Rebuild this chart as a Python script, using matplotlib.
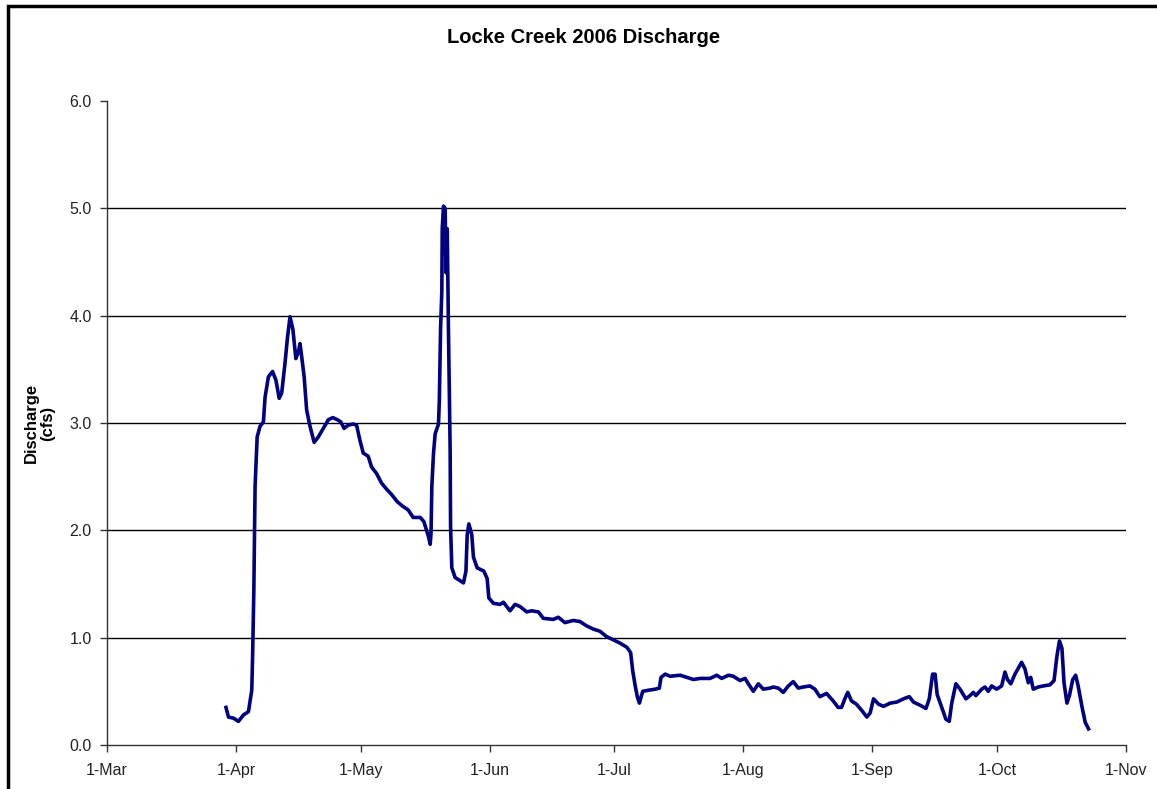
import matplotlib
matplotlib.use("Agg")
import matplotlib.pyplot as plt
import matplotlib.patches as patches
import pandas as pd

plt.rcParams['font.family'] = ['Liberation Sans', 'DejaVu Sans']

# days after 1-Mar-2006
days = [28.6, 29.2, 30.4, 31.6, 32.8, 34.0, 34.8, 35.0, 35.3, 35.6,
        36.1, 36.8, 37.6, 38.0, 38.8, 39.8, 40.6, 41.4, 42.0, 42.8,
        43.4, 44.0, 44.7, 45.4, 46.0, 46.4, 46.8, 47.4, 48.0, 48.8,
        49.8, 50.8, 52.0, 53.2, 54.3, 55.4, 56.2, 57.0, 58.0, 59.2,
        60.0, 60.8, 61.6, 62.8, 63.6, 64.8, 66.0, 67.3, 68.5, 69.7,
        70.9, 72.4, 73.6, 75.3, 76.2, 77.3, 77.7, 77.9, 78.1, 78.5,
        78.9, 79.7, 79.9, 80.2, 80.5, 80.6, 80.9, 81.3, 81.5, 81.8,
        82.1, 82.5, 82.6, 82.9, 83.7, 84.9, 85.7, 86.3, 86.6, 87.0,
        87.7, 88.1, 89.0, 90.6, 91.4, 91.8, 92.9, 94.5, 95.3, 96.9,
        98.1, 99.3, 100.9, 102.1, 103.7, 104.9, 107.3, 108.5, 110.1, 112.1,
        113.7, 115.3, 116.9, 118.5, 120.1, 121.7, 123.3, 125.0, 125.9, 126.4,
        127.0, 127.5, 128.0, 128.8, 130.2, 131.8, 132.8, 133.2, 134.2, 135.4,
        137.8, 139.4, 141.0, 142.6, 145.0, 146.6, 147.8, 149.4, 150.6, 152.2,
        153.4, 154.2, 155.4, 156.6, 157.8, 159.4, 160.2, 161.4, 162.6, 163.8,
        165.0, 166.2, 167.4, 169.0, 170.2, 171.4, 173.0, 174.6, 175.8, 176.6,
        177.4, 178.1, 179.0, 180.2, 181.5, 182.7, 183.5, 184.3, 185.5, 186.7,
        188.3, 189.9, 191.5, 192.9, 193.9, 195.5, 196.9, 197.7, 198.5, 199.1,
        199.6, 200.7, 201.7, 202.5, 203.1, 204.1, 205.1, 206.5, 207.5, 208.3,
        208.9, 210.3, 211.1, 211.9, 212.7, 213.9, 215.1, 215.9, 216.5, 217.3,
        218.3, 219.9, 220.7, 221.5, 222.1, 222.7, 223.9, 225.1, 226.7, 227.7,
        228.4, 229.0, 229.6, 230.1, 230.8, 231.4, 232.2, 232.9, 233.5, 234.4,
        235.2, 236.0]

# discharge (cfs)
discharge = [0.35, 0.26, 0.25, 0.22, 0.28, 0.31, 0.51, 0.82, 1.44, 2.41,
             2.87, 2.97, 3.01, 3.24, 3.43, 3.48, 3.40, 3.23, 3.28, 3.56,
             3.80, 3.99, 3.87, 3.60, 3.66, 3.74, 3.62, 3.43, 3.12, 2.97,
             2.82, 2.87, 2.95, 3.03, 3.05, 3.03, 3.01, 2.95, 2.98, 2.99,
             2.98, 2.84, 2.72, 2.69, 2.59, 2.53, 2.44, 2.38, 2.33, 2.27,
             2.23, 2.19, 2.12, 2.12, 2.08, 1.94, 1.87, 1.97, 2.41, 2.72,
             2.90, 2.99, 3.21, 3.88, 4.23, 4.81, 5.02, 5.00, 4.40, 4.81,
             3.85, 2.75, 2.04, 1.65, 1.56, 1.53, 1.51, 1.62, 1.96, 2.06,
             1.96, 1.75, 1.65, 1.62, 1.55, 1.37, 1.32, 1.31, 1.33, 1.25,
             1.31, 1.29, 1.24, 1.25, 1.24, 1.18, 1.17, 1.19, 1.14, 1.16,
             1.15, 1.11, 1.08, 1.06, 1.01, 0.98, 0.95, 0.91, 0.86, 0.69,
             0.55, 0.45, 0.39, 0.50, 0.51, 0.52, 0.53, 0.63, 0.66, 0.64,
             0.65, 0.63, 0.61, 0.62, 0.62, 0.65, 0.62, 0.65, 0.64, 0.60,
             0.62, 0.57, 0.50, 0.57, 0.52, 0.53, 0.54, 0.53, 0.49, 0.55,
             0.59, 0.53, 0.54, 0.55, 0.52, 0.45, 0.48, 0.41, 0.35, 0.35,
             0.43, 0.49, 0.41, 0.38, 0.32, 0.26, 0.30, 0.43, 0.38, 0.36,
             0.39, 0.40, 0.43, 0.45, 0.40, 0.37, 0.34, 0.43, 0.66, 0.66,
             0.47, 0.35, 0.24, 0.22, 0.39, 0.57, 0.52, 0.43, 0.46, 0.49,
             0.46, 0.52, 0.54, 0.50, 0.55, 0.52, 0.55, 0.68, 0.61, 0.57,
             0.66, 0.77, 0.71, 0.58, 0.63, 0.52, 0.54, 0.55, 0.56, 0.60,
             0.83, 0.97, 0.90, 0.58, 0.39, 0.46, 0.61, 0.65, 0.55, 0.36,
             0.21, 0.15]

month_starts = pd.date_range('2006-03-01', '2006-11-01', freq='MS')
month_labels = ['1-Mar', '1-Apr', '1-May', '1-Jun', '1-Jul', '1-Aug', '1-Sep', '1-Oct', '1-Nov']
y_ticks = [0.0, 1.0, 2.0, 3.0, 4.0, 5.0, 6.0]

dates = pd.Timestamp('2006-03-01') + pd.to_timedelta(days, unit='D')

fig = plt.figure(figsize=(11.57, 7.89), dpi=100)
ax = fig.add_axes([0.0925, 0.0558, 0.8807, 0.8162])

for v in y_ticks[1:-1]:
    ax.axhline(v, color='black', lw=1.0, zorder=1)

ax.plot(dates, discharge, color='#000080', lw=2.6, zorder=3)

ax.set_xlim(month_starts[0], month_starts[-1])
ax.set_ylim(0, 6)
ax.set_xticks(month_starts)
ax.set_xticklabels(month_labels)
ax.set_yticks(y_ticks)
ax.set_yticklabels([f'{v:.1f}' for v in y_ticks])

for s in ['top', 'right']:
    ax.spines[s].set_visible(False)
for s in ['left', 'bottom']:
    ax.spines[s].set_color('#333333')
    ax.spines[s].set_linewidth(1.0)
ax.tick_params(axis='both', direction='out', length=5, width=1, color='#333333',
               labelsize=11.5, labelcolor='#222222')
ax.tick_params(axis='y', pad=6)
ax.tick_params(axis='x', pad=8)

ax.set_ylabel('Discharge\n(cfs)', fontsize=12, fontweight='bold', labelpad=10, linespacing=1.1)
fig.text(0.504, 0.952, 'Locke Creek 2006 Discharge', ha='center', va='center',
         fontsize=14.5, fontweight='bold')

# chart border like the spreadsheet frame
fig.patches.append(patches.Rectangle((0.0065, -0.05), 1.2, 1.0424, transform=fig.transFigure,
                                     fill=False, edgecolor='black', lw=2.5))

fig.savefig('out.png', dpi=100)
